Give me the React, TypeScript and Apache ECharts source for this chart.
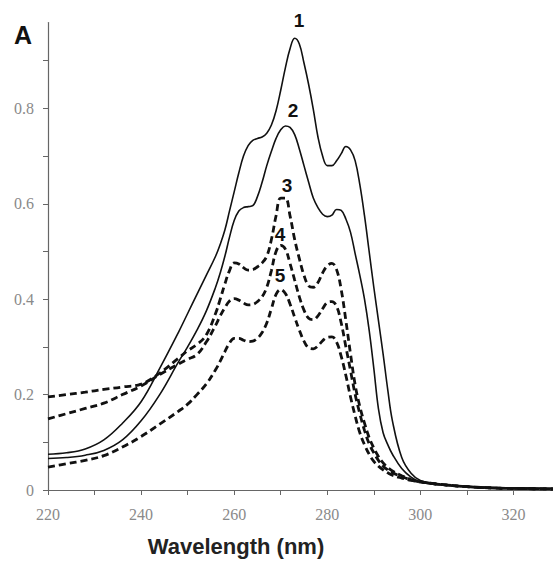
import React, { useEffect, useRef } from "react";
import * as echarts from "echarts";

const wavelengths = [220, 224, 228, 232, 236, 240, 244, 248, 250, 252, 254, 256, 257, 258, 259, 260, 261, 262, 263, 264, 265, 266, 267, 268, 269, 270, 271, 272, 273, 274, 275, 276, 277, 278, 279, 280, 281, 282, 283, 284, 285, 286, 287, 288, 289, 290, 291, 292, 293, 294, 296, 298, 300, 304, 310, 316, 322, 329];

const curve1 = [0.075, 0.078, 0.086, 0.105, 0.14, 0.185, 0.255, 0.33, 0.37, 0.41, 0.45, 0.49, 0.515, 0.545, 0.585, 0.625, 0.665, 0.7, 0.722, 0.733, 0.737, 0.74, 0.748, 0.765, 0.795, 0.838, 0.885, 0.925, 0.947, 0.935, 0.895, 0.85, 0.798, 0.74, 0.7, 0.68, 0.68, 0.69, 0.705, 0.72, 0.713, 0.69, 0.64, 0.575, 0.5, 0.425, 0.355, 0.285, 0.21, 0.145, 0.068, 0.035, 0.02, 0.012, 0.008, 0.005, 0.004, 0.003];

const curve2 = [0.066, 0.068, 0.073, 0.083, 0.105, 0.145, 0.2, 0.268, 0.3, 0.335, 0.375, 0.425, 0.455, 0.49, 0.53, 0.565, 0.585, 0.592, 0.594, 0.596, 0.615, 0.645, 0.68, 0.71, 0.737, 0.755, 0.763, 0.76, 0.745, 0.715, 0.68, 0.645, 0.612, 0.592, 0.578, 0.573, 0.576, 0.588, 0.586, 0.568, 0.54, 0.495, 0.45, 0.4, 0.335, 0.255, 0.17, 0.12, 0.095, 0.075, 0.045, 0.027, 0.017, 0.011, 0.007, 0.005, 0.004, 0.003];

const curve3 = [0.195, 0.2, 0.205, 0.211, 0.216, 0.222, 0.245, 0.276, 0.292, 0.305, 0.325, 0.37, 0.4, 0.432, 0.46, 0.476, 0.474, 0.466, 0.461, 0.462, 0.468, 0.476, 0.49, 0.525, 0.575, 0.612, 0.612, 0.575, 0.525, 0.485, 0.45, 0.428, 0.425, 0.435, 0.455, 0.47, 0.475, 0.462, 0.42, 0.355, 0.285, 0.22, 0.175, 0.14, 0.11, 0.088, 0.07, 0.057, 0.047, 0.04, 0.03, 0.022, 0.017, 0.012, 0.007, 0.004, 0.003, 0.002];

const curve4 = [0.149, 0.16, 0.171, 0.182, 0.2, 0.218, 0.242, 0.264, 0.274, 0.284, 0.31, 0.345, 0.365, 0.382, 0.396, 0.401, 0.398, 0.392, 0.388, 0.389, 0.395, 0.405, 0.425, 0.46, 0.5, 0.513, 0.505, 0.475, 0.44, 0.405, 0.377, 0.36, 0.357, 0.365, 0.38, 0.393, 0.395, 0.385, 0.35, 0.3, 0.25, 0.2, 0.16, 0.125, 0.097, 0.078, 0.062, 0.05, 0.042, 0.036, 0.028, 0.021, 0.017, 0.012, 0.007, 0.004, 0.003, 0.002];

const curve5 = [0.048, 0.055, 0.062, 0.072, 0.09, 0.112, 0.138, 0.165, 0.18, 0.2, 0.222, 0.252, 0.27, 0.29, 0.308, 0.318, 0.318, 0.314, 0.311, 0.312, 0.318, 0.33, 0.35, 0.38, 0.41, 0.42, 0.412, 0.39, 0.362, 0.335, 0.312, 0.298, 0.296, 0.302, 0.313, 0.32, 0.321, 0.31, 0.28, 0.24, 0.195, 0.155, 0.12, 0.095, 0.075, 0.06, 0.05, 0.042, 0.036, 0.031, 0.025, 0.02, 0.017, 0.012, 0.007, 0.004, 0.003, 0.002];

const xTickValues = [220, 230, 240, 250, 260, 270, 280, 290, 300, 310, 320];
const xLabelValues = [220, 240, 260, 280, 300, 320];
const yTickValues = [0, 0.1, 0.2, 0.3, 0.4, 0.5, 0.6, 0.7, 0.8, 0.9];
const yLabelValues = [0, 0.2, 0.4, 0.6, 0.8];

const curveLabels = [
  { text: "1", x: 299, y: 20 },
  { text: "2", x: 293, y: 110 },
  { text: "3", x: 287, y: 185 },
  { text: "4", x: 280, y: 234 },
  { text: "5", x: 280, y: 275 },
];

const pair = (ys: number[]) => wavelengths.map((w, i) => [w, ys[i]]);

export default function App() {
  const ref = useRef<HTMLDivElement>(null);
  useEffect(() => {
    if (!ref.current) return;
    const chart = echarts.init(ref.current, null, { renderer: "svg" });
    const solid = { color: "#111", width: 1.6, type: "solid" as const };
    const dashed = { color: "#111", width: 2.8, type: [7, 4] as any };
    const mk = (name: string, ys: number[], ls: any) => ({
      name,
      type: "line",
      data: pair(ys),
      showSymbol: false,
      smooth: 0.4,
      lineStyle: ls,
      itemStyle: { color: "#111" },
    });
    chart.setOption({
      animation: false,
      backgroundColor: "#fff",
      grid: { left: 48, right: 0, top: 22.5, bottom: 73 },
      xAxis: {
        type: "value",
        min: 220,
        max: 328.5,
        interval: 10,
        splitLine: { show: false },
        axisLine: { lineStyle: { color: "#666", width: 1.2 } },
        axisTick: { show: true, length: 5, customValues: xTickValues, lineStyle: { color: "#666" } },
        axisLabel: {
          customValues: xLabelValues,
          formatter: (v: number) => (xLabelValues.includes(v) ? String(v) : ""),
          margin: 16,
          color: "#8a8a8a",
          fontFamily: "Liberation Serif, Times New Roman, serif",
          fontSize: 16,
        },
      },
      yAxis: {
        type: "value",
        min: 0,
        max: 0.98,
        interval: 0.1,
        splitLine: { show: false },
        axisLine: { show: true, lineStyle: { color: "#666", width: 1.2 } },
        axisTick: { show: true, length: 5, customValues: yTickValues, lineStyle: { color: "#666" } },
        axisLabel: {
          customValues: yLabelValues,
          formatter: (v: number) => {
            const r = Math.round(v * 10) / 10;
            return yLabelValues.some((t) => Math.abs(t - r) < 1e-6) && Math.abs(v - r) < 1e-6 ? String(r) : "";
          },
          margin: 14,
          color: "#8a8a8a",
          fontFamily: "Liberation Serif, Times New Roman, serif",
          fontSize: 16,
        },
      },
      graphic: [
        {
          type: "text",
          x: 23,
          y: 35,
          style: { text: "A", font: "bold 25px 'Liberation Sans', Arial, sans-serif", fill: "#111", align: "center", verticalAlign: "middle" },
        },
        {
          type: "text",
          x: 236,
          y: 546,
          style: { text: "Wavelength (nm)", font: "bold 22px 'Liberation Sans', Arial, sans-serif", fill: "#222", align: "center", verticalAlign: "middle" },
        },
        ...curveLabels.map((l) => ({
          type: "text",
          x: l.x,
          y: l.y,
          style: { text: l.text, font: "bold 19px 'Liberation Sans', Arial, sans-serif", fill: "#111", align: "center", verticalAlign: "middle" },
        })),
      ],
      series: [
        mk("1", curve1, solid),
        mk("2", curve2, solid),
        mk("3", curve3, dashed),
        mk("4", curve4, dashed),
        mk("5", curve5, dashed),
      ],
    });
    return () => chart.dispose();
  }, []);
  return <div ref={ref} style={{ position: "absolute", left: 0, top: 0, width: 553, height: 563 }} />;
}
